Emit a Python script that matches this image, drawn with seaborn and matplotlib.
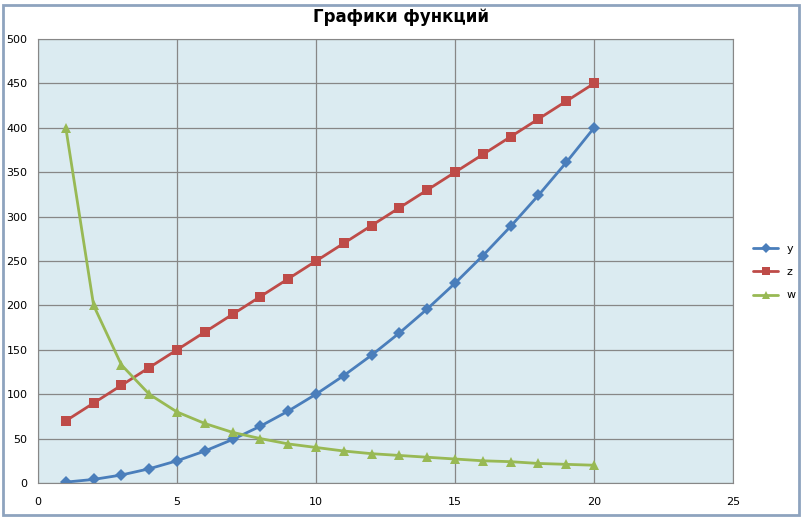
import pandas as pd
import matplotlib.pyplot as plt
import seaborn as sns
from matplotlib.patches import Rectangle

# Data
x_vals = list(range(1, 21))
y_vals = [1, 4, 9, 16, 25, 36, 49, 64, 81, 100, 121, 144, 169, 196, 225, 256, 289, 324, 361, 400]
z_vals = [70, 90, 110, 130, 150, 170, 190, 210, 230, 250, 270, 290, 310, 330, 350, 370, 390, 410, 430, 450]
w_vals = [400, 200, 133, 100, 80, 67, 57, 50, 44, 40, 36, 33, 31, 29, 27, 25, 24, 22, 21, 20]

df = pd.DataFrame({
    "x": x_vals * 3,
    "value": y_vals + z_vals + w_vals,
    "series": ["y"] * 20 + ["z"] * 20 + ["w"] * 20,
})

sns.set_style("white")
plt.rcParams["font.family"] = ["DejaVu Sans"]

fig = plt.figure(figsize=(8.02, 5.18), dpi=100)
ax = fig.add_axes([0.0474, 0.0676, 0.8666, 0.857])
ax.set_facecolor("#DBEBF1")

palette = {"y": "#4A7EBB", "z": "#BE4B48", "w": "#98B954"}
markers = {"y": "D", "z": "s", "w": "^"}

sns.lineplot(
    data=df, x="x", y="value", hue="series", style="series",
    palette=palette, markers=markers, dashes=False,
    markersize=6.5, linewidth=2, markeredgewidth=0, ax=ax,
)

ax.set_xlim(0, 25)
ax.set_ylim(0, 500)
ax.set_xticks(range(0, 26, 5))
ax.set_yticks(range(0, 501, 50))
ax.grid(True, color="#878787", linewidth=0.9)
ax.set_axisbelow(True)
for side in ["top", "right", "left", "bottom"]:
    ax.spines[side].set_color("#878787")
ax.tick_params(axis="both", labelsize=8, length=4, color="#878787",
               labelcolor="black", direction="out")
ax.tick_params(axis="x", pad=6)
ax.set_xlabel("")
ax.set_ylabel("")

fig.text(0.5, 0.967, "Графики функций", ha="center", va="center",
         fontsize=12, fontweight="bold", color="black")

leg = ax.legend(loc="center left", bbox_to_anchor=(1.015, 0.475), frameon=False,
                fontsize=8, handlelength=2.2, labelspacing=1.2, markerscale=0.8)
for t in leg.get_texts():
    t.set_color("black")

# outer chart frame
fig.patches.append(Rectangle((0.004, 0.006), 0.992, 0.985, transform=fig.transFigure,
                             fill=False, edgecolor="#8EA3BE", linewidth=2))

fig.savefig("out.png", dpi=100)
